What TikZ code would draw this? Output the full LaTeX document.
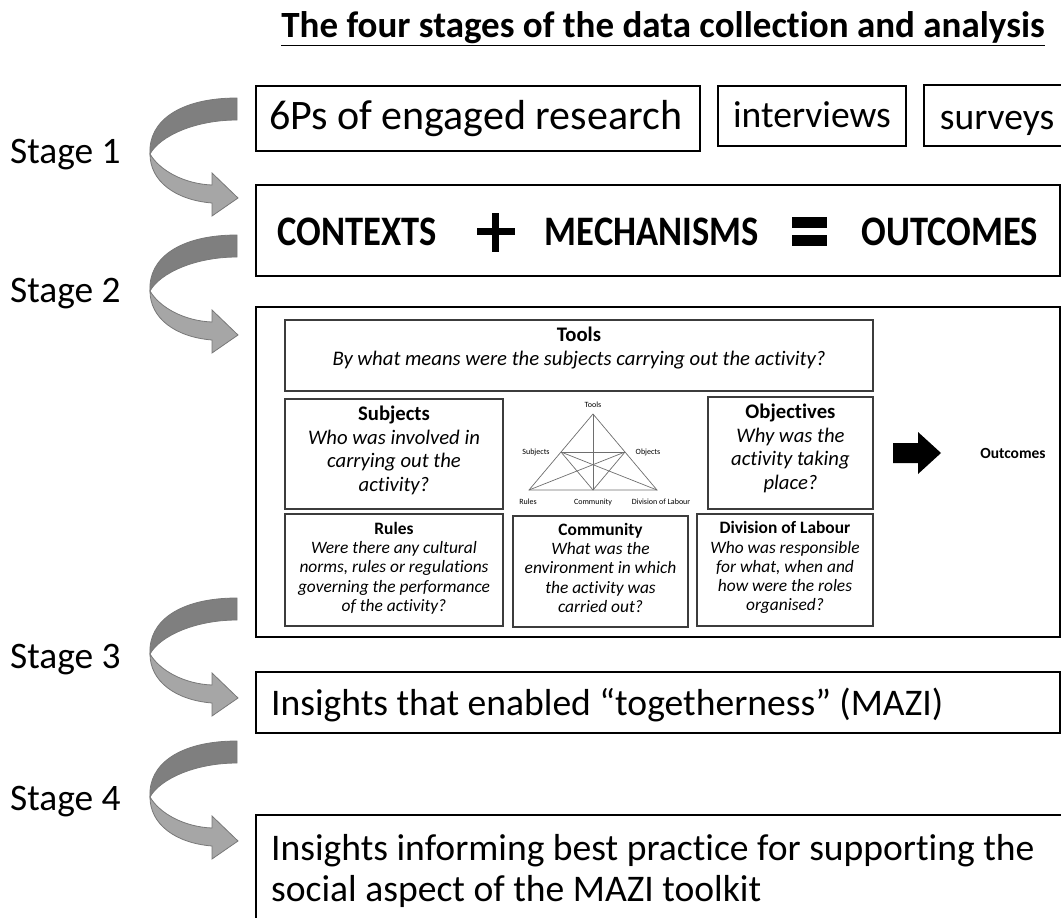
\documentclass[tikz,border=0pt]{standalone}
\usepackage{fontspec}
\setmainfont[Ligatures=NoCommon]{Carlito}
\usepackage{graphicx}
\definecolor{darkarr}{RGB}{127,127,127}
\definecolor{lightarr}{RGB}{166,166,166}
\definecolor{arredge}{RGB}{120,120,120}
\definecolor{inedge}{RGB}{60,60,60}
\definecolor{trigray}{RGB}{110,110,110}
\begin{document}
\begin{tikzpicture}[x=1pt,y=-1pt,
  outerbox/.style={draw=black, line width=1.6pt, inner sep=0pt},
  innerbox/.style={draw=inedge, line width=1.1pt, inner sep=0pt},
  bigtxt/.style={font=\fontsize{37.6}{41}\selectfont, inner sep=0pt},
  stagetxt/.style={font=\fontsize{37.4}{41}\selectfont, inner sep=0pt, anchor=west},
  cmotxt/.style={font=\bfseries\fontsize{42}{46}\selectfont, inner sep=0pt},
  qtxtA/.style={font=\fontsize{20.7}{23.5}\selectfont, inner sep=0pt, anchor=north, align=center},
  qtxtB/.style={font=\fontsize{17.4}{19.25}\selectfont, inner sep=0pt, anchor=north, align=center},
  trilbl/.style={font=\fontsize{8}{9}\selectfont, inner sep=0pt},
  triline/.style={draw=trigray, line width=0.7pt},
  stagearrow/.pic={
    \filldraw[fill=darkarr, draw=arredge, line width=0.8pt]
      (237,2) .. controls (180,2) and (148,25) .. (150,58)
      .. controls (160,40) and (195,24) .. (237,24) -- cycle;
    \filldraw[fill=lightarr, draw=arredge, line width=0.8pt]
      (150,58) .. controls (160,75) and (185,88) .. (212,89)
      -- (212,77) -- (238,102) -- (212,120) -- (212,107)
      .. controls (175,104) and (150,85) .. (150,58) -- cycle;
  }]
\useasboundingbox (0,0) rectangle (1061,918);
\clip (0,0) rectangle (1061,918);

% title
\node[font=\bfseries\fontsize{37}{42}\selectfont, inner sep=0pt] (title) at (663,29)
  {\underline{The four stages of the data collection and analysis}};

% stage labels
\node[stagetxt] (s1) at (10,155) {Stage 1};
\node[stagetxt] (s2) at (10,294) {Stage 2};
\node[stagetxt] (s3) at (10,660) {Stage 3};
\node[stagetxt] (s4) at (10,802) {Stage 4};

% curved arrows
\pic at (0,96) {stagearrow};
\pic at (0,233) {stagearrow};
\pic at (0,596) {stagearrow};
\pic at (0,739) {stagearrow};

% stage 1 boxes
\node[outerbox, minimum width=444pt, minimum height=65pt] (p6) at (478,118.5) {};
\node[font=\fontsize{42}{46}\selectfont, inner sep=0pt] (p6t) at (475.5,119) {6Ps of engaged research};
\node[outerbox, minimum width=188pt, minimum height=60pt] (iv) at (812,116) {};
\node[bigtxt, anchor=base] (ivt) at (812,127) {interviews};
\node[outerbox, minimum width=150pt, minimum height=61pt] (sv) at (999,115.5) {};
\node[bigtxt, anchor=base] (svt) at (997,129) {surveys};

% CMO box
\node[outerbox, minimum width=804pt, minimum height=91pt] (cmo) at (658,230.5) {};
\node[cmotxt] (ctx) at (357,232) {\scalebox{0.87}[1]{CONTEXTS}};
\node[cmotxt] (mech) at (652,232) {\scalebox{0.87}[1]{MECHANISMS}};
\node[cmotxt] (outc) at (950,232) {\scalebox{0.87}[1]{OUTCOMES}};
\fill (477,228) rectangle (515,235);
\fill (492,213) rectangle (499,252);
\fill (792,217) rectangle (827,228);
\fill (792,235) rectangle (827,246);

% stage 2 box
\node[outerbox, minimum width=804pt, minimum height=330pt] (st2) at (658,472) {};

% inner boxes
\node[innerbox, minimum width=588pt, minimum height=71pt] (tools) at (579,355.5) {};
\node[qtxtA] (toolst) at (579,327) {\textbf{Tools}\\\textit{By what means were the subjects carrying out the activity?}};

\node[innerbox, minimum width=218pt, minimum height=110pt] (subj) at (394,454) {};
\node[qtxtA] (subjt) at (394,406) {\textbf{Subjects}\\\textit{Who was involved in}\\\textit{carrying out the}\\\textit{activity?}};

\node[innerbox, minimum width=165pt, minimum height=112pt] (obj) at (790.5,453) {};
\node[qtxtA] (objt) at (790.5,404) {\textbf{Objectives}\\\textit{Why was the}\\\textit{activity taking}\\\textit{place?}};

\node[innerbox, minimum width=218pt, minimum height=112pt] (rules) at (394,570) {};
\node[qtxtB] (rulest) at (394,522) {\textbf{Rules}\\\textit{Were there any cultural}\\\textit{norms, rules or regulations}\\\textit{governing the performance}\\\textit{of the activity?}};

\node[innerbox, minimum width=175pt, minimum height=111pt] (comm) at (600.5,571.5) {};
\node[qtxtB] (commt) at (600.5,523) {\textbf{Community}\\\textit{What was the}\\\textit{environment in which}\\\textit{the activity was}\\\textit{carried out?}};

\node[innerbox, minimum width=176pt, minimum height=112pt] (div) at (785,570) {};
\node[qtxtB] (divt) at (785,521.5) {\textbf{Division of Labour}\\\textit{Who was responsible}\\\textit{for what, when and}\\\textit{how were the roles}\\\textit{organised?}};

% triangle
\coordinate (tT) at (593,414);
\coordinate (tS) at (561,452);
\coordinate (tO) at (625,452);
\coordinate (tR) at (529,490);
\coordinate (tC) at (593,490);
\coordinate (tD) at (657,490);
\draw[triline] (tT) -- (tR) -- (tD) -- cycle;
\draw[triline] (tS) -- (tO);
\draw[triline] (tT) -- (tC);
\draw[triline] (tS) -- (tC) -- (tO);
\draw[triline] (tS) -- (tD);
\draw[triline] (tO) -- (tR);
\node[trilbl] (lT) at (593,405) {Tools};
\node[trilbl] (lS) at (536,452) {Subjects};
\node[trilbl] (lO) at (648,452) {Objects};
\node[trilbl] (lR) at (528,502) {Rules};
\node[trilbl] (lC) at (593,502) {Community};
\node[trilbl] (lD) at (661,502) {Division of Labour};

% outcomes arrow
\fill (893,443) -- (918,443) -- (918,432) -- (941,453) -- (918,474) -- (918,463) -- (893,463) -- cycle;
\node[font=\bfseries\fontsize{15.5}{19}\selectfont, inner sep=0pt] (outw) at (1013,453) {Outcomes};

% stage 3 box
\node[outerbox, minimum width=804pt, minimum height=61pt] (ins) at (658,702.5) {};
\node[bigtxt, anchor=west] (inst) at (271,705) {Insights that enabled “togetherness” (MAZI)};

% stage 4 box
\node[outerbox, minimum width=830pt, minimum height=130pt] (fin) at (671,880) {};
\node[bigtxt, anchor=north west, align=left] (fint) at (271,834)
  {Insights informing best practice for supporting the\\social aspect of the MAZI toolkit};
\end{tikzpicture}
\end{document}
